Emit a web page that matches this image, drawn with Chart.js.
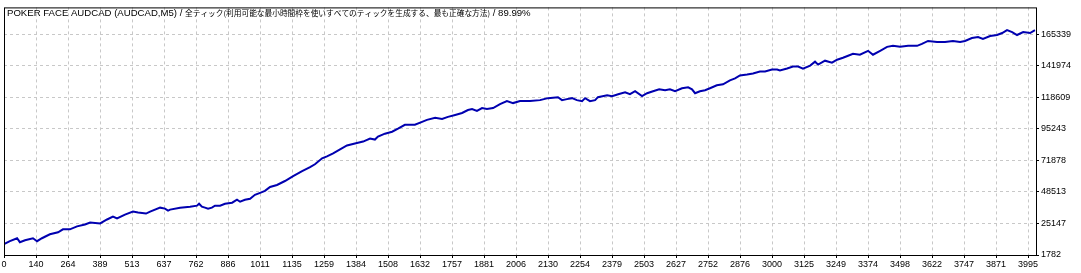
<!DOCTYPE html>
<html>
<head>
<meta charset="utf-8">
<script src="https://cdn.jsdelivr.net/npm/chart.js@4"></script>
<style>
  html, body { margin: 0; padding: 0; background: #fff; }
  #wrap { width: 1081px; height: 273px; }
</style>
</head>
<body>
<div id="wrap"><canvas id="equity"></canvas></div>
<script>
// title parts
const titleHead = 'POKER FACE AUDCAD (AUDCAD,M5) / ';
const titleModel = '全ティック(利用可能な最小時間枠を使いすべてのティックを生成する、最も正確な方法)';
const titleTail = ' / 89.99%';

// x axis labels (trade number) and y axis ticks
const xLabels = ['0', '140', '264', '389', '513', '637', '762', '886', '1011', '1135', '1259',
  '1384', '1508', '1632', '1757', '1881', '2006', '2130', '2254', '2379', '2503', '2627',
  '2752', '2876', '3000', '3125', '3249', '3374', '3498', '3622', '3747', '3871', '3995'];
const yTicks = [1782, 25147, 48513, 71878, 95243, 118609, 141974, 165339];

// balance curve
const tradeNo = [0, 23, 51, 62, 82, 113, 129, 148, 179, 211, 230, 257, 285, 316, 336, 375, 402, 425,
  441, 472, 503, 523, 554, 570, 609, 628, 640, 648, 687, 726, 753, 761, 772, 784, 796, 811, 823,
  843, 862, 890, 909, 921, 940, 960, 979, 999, 1018, 1038, 1065, 1096, 1128, 1163, 1194, 1213,
  1241, 1260, 1284, 1311, 1338, 1369, 1401, 1428, 1447, 1459, 1486, 1514, 1537, 1564, 1584, 1603,
  1631, 1650, 1682, 1709, 1732, 1760, 1787, 1810, 1826, 1845, 1865, 1884, 1908, 1935, 1962, 1986,
  2013, 2052, 2091, 2122, 2161, 2177, 2196, 2216, 2235, 2255, 2267, 2286, 2306, 2317, 2353, 2372,
  2396, 2423, 2442, 2462, 2489, 2509, 2532, 2556, 2579, 2598, 2618, 2645, 2669, 2684, 2696, 2715,
  2735, 2754, 2781, 2805, 2832, 2852, 2871, 2899, 2922, 2949, 2969, 2996, 3016, 3027, 3055, 3078,
  3098, 3117, 3145, 3164, 3176, 3203, 3230, 3250, 3273, 3293, 3312, 3339, 3371, 3390, 3418, 3445,
  3468, 3496, 3527, 3562, 3581, 3605, 3640, 3671, 3702, 3730, 3749, 3776, 3800, 3819, 3847, 3874,
  3894, 3913, 3933, 3952, 3976, 4003, 4022];
const balance = [9814, 12004, 14195, 11274, 12735, 14195, 12004, 14195, 17116, 18576, 20766, 20766,
  22957, 24417, 25878, 25147, 28068, 30259, 28798, 31719, 33909, 33179, 32449, 33909, 36830, 36100,
  34640, 35370, 36830, 37560, 38291, 39751, 37560, 36830, 36100, 36830, 38291, 38291, 39751, 40481,
  42672, 41211, 42672, 43402, 46322, 47783, 49243, 52164, 53624, 56545, 60196, 63846, 66767, 68958,
  73339, 74799, 76990, 79910, 82831, 84291, 85752, 87942, 87212, 89402, 91593, 93053, 95244, 98164,
  98164, 98164, 100355, 101815, 103276, 102545, 104006, 105466, 106926, 109117, 109847, 108387,
  110577, 109847, 110577, 113498, 115689, 114228, 115689, 115689, 116419, 117879, 118609, 116419,
  117149, 117879, 116419, 115689, 117879, 115689, 116419, 118609, 120070, 119339, 120800, 122260,
  120800, 122990, 119339, 121530, 122990, 124451, 123720, 124451, 122990, 125181, 125911, 124451,
  121530, 122990, 123720, 125181, 127371, 128101, 131022, 132482, 134673, 135403, 136133, 137594,
  137594, 139054, 139054, 138324, 139784, 141244, 141244, 139784, 141975, 144895, 142705, 145625,
  144165, 146356, 147816, 149276, 150737, 150007, 152927, 150007, 152927, 155848, 156578, 155848,
  156578, 156578, 158038, 160229, 159499, 159499, 160229, 159499, 160229, 162419, 163150, 161689,
  163880, 164610, 166070, 168261, 166800, 164610, 166800, 166070, 168261];

const xStep = 3995 / 32;

const frameAndTitle = {
  id: 'frameAndTitle',
  afterDraw(chart) {
    const { ctx, chartArea: a } = chart;
    ctx.save();
    ctx.strokeStyle = '#000';
    ctx.lineWidth = 1;
    ctx.strokeRect(a.left + 0.5, a.top + 0.5, a.right - a.left, a.bottom - a.top);
    ctx.fillStyle = '#000';
    ctx.textBaseline = 'alphabetic';
    let x = 7;
    const y = 16;
    ctx.font = "9.6px 'Liberation Sans'";
    ctx.fillText(titleHead, x, y);
    x += ctx.measureText(titleHead).width;
    ctx.font = "7.7px 'Noto Sans CJK JP'";
    ctx.fillText(titleModel, x, y);
    x += ctx.measureText(titleModel).width;
    ctx.font = "9.6px 'Liberation Sans'";
    ctx.fillText(titleTail, x, y);
    ctx.restore();
  }
};

const whiteBg = {
  id: 'whiteBg',
  beforeDraw(chart) {
    const ctx = chart.ctx;
    ctx.save();
    ctx.fillStyle = '#fff';
    ctx.fillRect(0, 0, chart.width, chart.height);
    ctx.restore();
  }
};

new Chart(document.getElementById('equity'), {
  type: 'line',
  data: {
    datasets: [{
      label: 'Balance',
      data: tradeNo.map((t, i) => ({ x: t, y: balance[i] })),
      borderColor: '#0000b0',
      borderWidth: 2,
      pointRadius: 0,
      tension: 0,
      fill: false,
    }],
  },
  options: {
    responsive: true,
    maintainAspectRatio: false,
    animation: false,
    layout: { padding: { left: 4, top: 4, right: 0, bottom: 0 } },
    plugins: {
      legend: { display: false },
      tooltip: { enabled: false },
    },
    scales: {
      x: {
        type: 'linear',
        min: 0,
        max: 4026,
        afterBuildTicks: (axis) => {
          axis.ticks = xLabels.map((l, i) => ({ value: i * xStep }));
        },
        afterFit: (scale) => { scale.height = 18; },
        grid: {
          color: '#c8c8c8',
          tickColor: '#000',
          tickLength: 3,
          tickBorderDash: [],
        },
        border: { display: false, dash: [3, 3] },
        ticks: {
          autoSkip: false,
          maxRotation: 0,
          padding: 1,
          color: '#000',
          font: { family: 'Liberation Sans', size: 9 },
          callback: (v, i) => xLabels[i],
        },
      },
      y: {
        position: 'right',
        min: 1782,
        max: 185055,
        afterBuildTicks: (axis) => {
          axis.ticks = yTicks.map(v => ({ value: v }));
        },
        afterFit: (scale) => { scale.width = 45; },
        grid: {
          color: '#c8c8c8',
          tickColor: '#000',
          tickLength: 3,
          tickBorderDash: [],
        },
        border: { display: false, dash: [3, 3] },
        ticks: {
          padding: 2,
          color: '#000',
          font: { family: 'Liberation Sans', size: 9 },
          callback: (v) => String(v),
        },
      },
    },
  },
  plugins: [whiteBg, frameAndTitle],
});
</script>
</body>
</html>
